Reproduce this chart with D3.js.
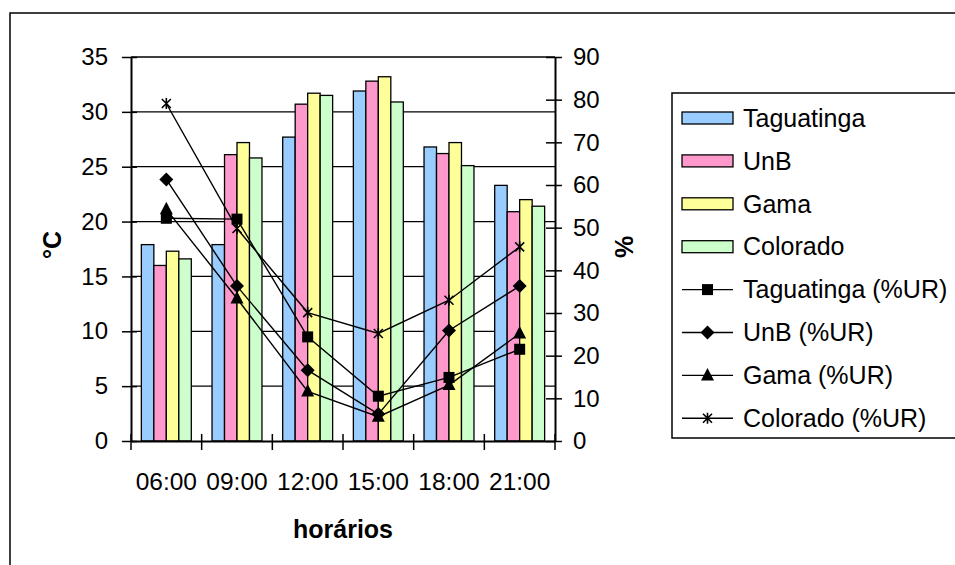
<!DOCTYPE html>
<html>
<head>
<meta charset="utf-8">
<script src="https://cdn.jsdelivr.net/npm/d3@7"></script>
<style>
  html, body { margin: 0; padding: 0; background: #fff; }
  svg { display: block; font-family: "Liberation Sans", Arial, sans-serif; }
</style>
</head>
<body>
<svg id="chart" width="955" height="565"></svg>
<script>
// Hourly readings at four stations
const hours = ["06:00", "09:00", "12:00", "15:00", "18:00", "21:00"];
const stations = ["Taguatinga", "UnB", "Gama", "Colorado"];
const barColors = ["#99CCFF", "#FF99CC", "#FFFF99", "#CCFFCC"];

// Air temperature (°C)
const tempTaguatinga = [17.9, 17.9, 27.7, 31.9, 26.8, 23.3];
const tempUnB        = [16.0, 26.1, 30.7, 32.8, 26.2, 20.9];
const tempGama       = [17.3, 27.2, 31.7, 33.2, 27.2, 22.0];
const tempColorado   = [16.6, 25.8, 31.5, 30.9, 25.1, 21.4];

// Relative humidity (%UR)
const urTaguatinga = [52.2, 52.0, 24.4, 10.5, 14.9, 21.5];
const urUnB        = [61.3, 36.3, 16.6, 6.3, 25.9, 36.3];
const urGama       = [54.3, 33.4, 11.6, 5.7, 13.1, 25.2];
const urColorado   = [79.1, 49.8, 30.1, 25.2, 33.0, 45.5];

const leftTicks = [0, 5, 10, 15, 20, 25, 30, 35];
const rightTicks = [0, 10, 20, 30, 40, 50, 60, 70, 80, 90];

const tempSeries = [tempTaguatinga, tempUnB, tempGama, tempColorado];
const urSeries = [urTaguatinga, urUnB, urGama, urColorado];
const markerTypes = ["square", "diamond", "triangle", "star"];
const lineNames = stations.map(s => s + " (%UR)");

const svg = d3.select("#chart");
const plot = { left: 131, right: 555, top: 57, bottom: 441 };
const FONT = "'Liberation Sans', Arial, sans-serif";

const x0 = d3.scaleBand().domain(hours).range([plot.left, plot.right]).paddingInner(0).paddingOuter(0);
const x1 = d3.scaleBand().domain(stations).range([0, x0.bandwidth()]).paddingInner(0).paddingOuter(0.83);
const yL = d3.scaleLinear().domain([0, 35]).range([plot.bottom, plot.top]);
const yR = d3.scaleLinear().domain([0, 90]).range([plot.bottom, plot.top]);

// Outer chart frame
svg.append("rect")
  .attr("x", 10).attr("y", 13).attr("width", 980).attr("height", 600)
  .attr("fill", "none").attr("stroke", "#000").attr("stroke-width", 1.5);

// Horizontal gridlines (behind bars)
svg.append("g").selectAll("line").data(leftTicks.filter(d => d > 0)).join("line")
  .attr("x1", plot.left).attr("x2", plot.right)
  .attr("y1", d => yL(d)).attr("y2", d => yL(d))
  .attr("stroke", "#000").attr("stroke-width", 1.3);

// Bars
const barG = svg.append("g");
stations.forEach((s, si) => {
  barG.append("g").selectAll("rect").data(tempSeries[si]).join("rect")
    .attr("x", (d, i) => x0(hours[i]) + x1(s))
    .attr("y", d => yL(d))
    .attr("width", x1.bandwidth())
    .attr("height", d => yL(0) - yL(d))
    .attr("fill", barColors[si])
    .attr("stroke", "#000").attr("stroke-width", 1.3);
});

// Primary (temperature) axis
const gL = svg.append("g").attr("transform", `translate(${plot.left},0)`)
  .call(d3.axisLeft(yL).tickValues(leftTicks).tickSize(0).tickFormat(d3.format("d")));
gL.select(".domain").attr("stroke", "#000").attr("stroke-width", 2);
gL.selectAll(".tick line").remove();
gL.selectAll(".tick").append("line").attr("x1", -9).attr("x2", 6).attr("stroke", "#000").attr("stroke-width", 1.5);
gL.selectAll(".tick text").attr("x", -23).attr("font-size", 24).attr("fill", "#000").attr("font-family", FONT);

// Secondary (humidity) axis
const gR = svg.append("g").attr("transform", `translate(${plot.right},0)`)
  .call(d3.axisRight(yR).tickValues(rightTicks).tickSize(0).tickFormat(d3.format("d")));
gR.select(".domain").attr("stroke", "#000").attr("stroke-width", 2);
gR.selectAll(".tick line").remove();
gR.selectAll(".tick").append("line").attr("x1", -9).attr("x2", 7).attr("stroke", "#000").attr("stroke-width", 1.5);
gR.selectAll(".tick text").attr("x", 18).attr("font-size", 24).attr("fill", "#000").attr("font-family", FONT);

// Category axis
const gX = svg.append("g").attr("transform", `translate(0,${plot.bottom})`).call(d3.axisBottom(x0).tickSize(0));
gX.select(".domain").attr("stroke", "#000").attr("stroke-width", 2);
gX.selectAll(".tick text").attr("y", 41).attr("dy", "0.32em").attr("font-size", 24.5).attr("fill", "#000").attr("font-family", FONT);
const boundaries = hours.map(h => x0(h)).concat([plot.right]);
gX.append("g").selectAll("line").data(boundaries).join("line")
  .attr("x1", d => d).attr("x2", d => d).attr("y1", -7).attr("y2", 9)
  .attr("stroke", "#000").attr("stroke-width", 1.5);

// Marker drawing
function drawMarker(g, type, cx, cy) {
  if (type === "square") {
    g.append("rect").attr("x", cx - 5.5).attr("y", cy - 5.5).attr("width", 11).attr("height", 11).attr("fill", "#000");
  } else if (type === "diamond") {
    g.append("path").attr("d", `M${cx},${cy - 7}L${cx + 7},${cy}L${cx},${cy + 7}L${cx - 7},${cy}Z`).attr("fill", "#000");
  } else if (type === "triangle") {
    g.append("path").attr("d", `M${cx},${cy - 7.5}L${cx + 6.5},${cy + 5}L${cx - 6.5},${cy + 5}Z`).attr("fill", "#000");
  } else {
    const r = 4.5;
    g.append("path")
      .attr("d", `M${cx - r},${cy - r}L${cx + r},${cy + r}M${cx - r},${cy + r}L${cx + r},${cy - r}M${cx},${cy - r - 1}L${cx},${cy + r + 1}`)
      .attr("stroke", "#000").attr("stroke-width", 1.6).attr("fill", "none");
  }
}

// Humidity lines on the secondary axis
const lineGen = d3.line().x((d, i) => x0(hours[i]) + x0.bandwidth() / 2).y(d => yR(d));
const lineG = svg.append("g");
urSeries.forEach(vals => {
  lineG.append("path").datum(vals).attr("d", lineGen)
    .attr("fill", "none").attr("stroke", "#000").attr("stroke-width", 1.4);
});
urSeries.forEach((vals, si) => {
  const mg = lineG.append("g");
  vals.forEach((v, i) => drawMarker(mg, markerTypes[si], x0(hours[i]) + x0.bandwidth() / 2, yR(v)));
});

// Axis titles
svg.append("text").attr("transform", "translate(61,245) rotate(-90)")
  .attr("text-anchor", "middle").attr("font-size", 25).attr("font-weight", "bold").text("°C");
svg.append("text").attr("transform", "translate(633,247) rotate(-90)")
  .attr("text-anchor", "middle").attr("font-size", 25).attr("font-weight", "bold").text("%");
svg.append("text").attr("x", 343).attr("y", 538)
  .attr("text-anchor", "middle").attr("font-size", 25).attr("font-weight", "bold").text("horários");

// Legend
const lg = svg.append("g");
lg.append("rect").attr("x", 672).attr("y", 93).attr("width", 320).attr("height", 345)
  .attr("fill", "#fff").attr("stroke", "#000").attr("stroke-width", 1.5);
const rowY = i => 118 + i * 42.9;
stations.forEach((s, i) => {
  lg.append("rect").attr("x", 682).attr("y", rowY(i) - 6).attr("width", 51).attr("height", 12)
    .attr("fill", barColors[i]).attr("stroke", "#000").attr("stroke-width", 1.3);
  lg.append("text").attr("x", 743).attr("y", rowY(i)).attr("dy", "0.35em").attr("font-size", 25).text(s);
});
lineNames.forEach((n, j) => {
  const i = j + 4;
  lg.append("line").attr("x1", 682).attr("x2", 733).attr("y1", rowY(i)).attr("y2", rowY(i))
    .attr("stroke", "#000").attr("stroke-width", 1.4);
  drawMarker(lg, markerTypes[j], 707.5, rowY(i));
  lg.append("text").attr("x", 743).attr("y", rowY(i)).attr("dy", "0.35em").attr("font-size", 25).text(n);
});
</script>
</body>
</html>
